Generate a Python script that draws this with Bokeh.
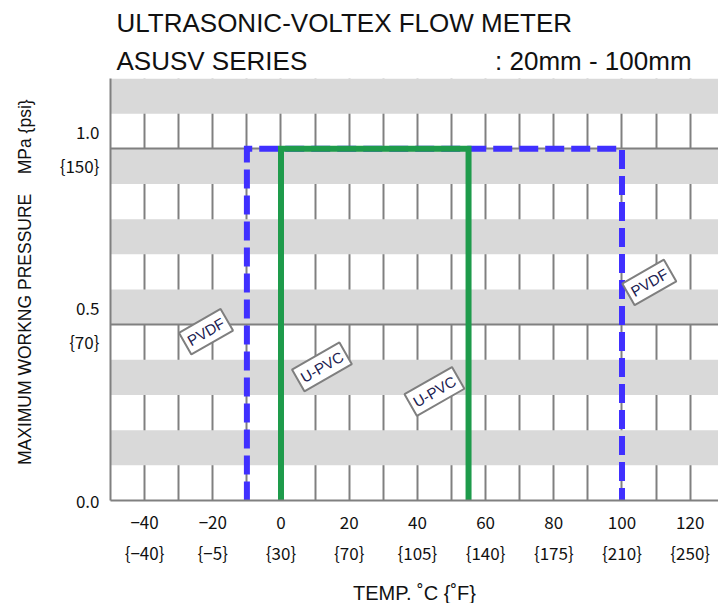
from bokeh.plotting import figure
from bokeh.models import FixedTicker, Grid, Range1d, ColumnDataSource, Title
from bokeh.embed import file_html
from bokeh.resources import INLINE
from bokeh.core.properties import value

# ---- data ----
pvdf_temp = [-10, -10, 100, 100]
pvdf_press = [0.0, 1.0, 1.0, 0.0]
upvc_temp = [0, 0, 55, 55]
upvc_press = [0.0, 1.0, 1.0, 0.0]

x_ticks = [-40, -20, 0, 20, 40, 60, 80, 100, 120]
x_tick_c = ["\u221240", "\u221220", "0", "20", "40", "60", "80", "100", "120"]
x_tick_f = ["{\u221240}", "{\u22125}", "{30}", "{70}", "{105}", "{140}", "{175}", "{210}", "{250}"]
x_grid_ticks = [-40, -30, -20, -10, 0, 10, 20, 30, 40, 50, 60, 70, 80, 90, 100, 110, 120]

y_ticks = [0.0, 0.5, 1.0]
y_tick_labels = ["0.0", "0.5\n{70}", "1.0\n{150}"]
y_band_ticks = [0.0, 0.1, 0.2, 0.3, 0.4, 0.5, 0.6, 0.7, 0.8, 0.9, 1.0, 1.1, 1.2]
y_line_ticks = [0.5, 1.0]

label_texts = ["PVDF", "PVDF", "U-PVC", "U-PVC"]
label_temp = [-22, 108, 12, 45]
label_press = [0.48, 0.62, 0.38, 0.31]

title1 = "ULTRASONIC-VOLTEX FLOW METER"
title2 = "ASUSV SERIES" + "\u00a0" * 26 + ":\u00a020mm - 100mm"
x_title = "TEMP. \u02daC {\u02daF}"
y_title = "\u00a0\u00a0\u00a0MAXIMUM WORKNG PRESSURE\u00a0\u00a0\u00a0\u00a0MPa {psi}"

GRID = "#808080"
SANS = "Liberation Sans"
TICKF = "Noto Sans CJK JP"

p = figure(frame_width=608, frame_height=422,
           x_range=Range1d(-50, 128.3), y_range=Range1d(0, 1.2),
           output_backend="svg", toolbar_location=None,
           min_border_left=110, min_border_right=0, min_border_top=78, min_border_bottom=103)
p.outline_line_color = None
p.background_fill_color = "white"

# titles (second line first: it sits next to the frame)
p.add_layout(Title(text=title2, align="left", offset=6, standoff=5,
                   text_font=SANS, text_font_size="26px", text_font_style="normal",
                   text_color="#111111"), "above")
p.add_layout(Title(text=title1, align="left", offset=6, standoff=8,
                   text_font=SANS, text_font_size="26px", text_font_style="normal",
                   text_color="#111111"), "above")

# grids
p.xgrid.ticker = FixedTicker(ticks=x_grid_ticks)
p.xgrid.grid_line_color = GRID
p.xgrid.grid_line_width = 2
p.ygrid.ticker = FixedTicker(ticks=y_band_ticks)
p.ygrid.grid_line_color = None
p.ygrid.band_fill_color = "#d9d9d9"
p.ygrid.band_fill_alpha = 1.0
hl = Grid(dimension=1, ticker=FixedTicker(ticks=y_line_ticks), grid_line_color=GRID, grid_line_width=2)
p.add_layout(hl)

# axes
for ax in (p.xaxis[0], p.yaxis[0]):
    ax.axis_line_color = GRID
    ax.axis_line_width = 2
    ax.major_tick_line_color = None
    ax.minor_tick_line_color = None
    ax.major_label_text_font = TICKF
    ax.major_label_text_font_size = "17px"
    ax.major_label_text_color = "#111111"
    ax.axis_label_text_font_style = "normal"
    ax.axis_label_text_color = "#111111"

p.xaxis.ticker = FixedTicker(ticks=x_ticks)
p.xaxis.major_label_overrides = {t: c + "\n" + f for t, c, f in zip(x_ticks, x_tick_c, x_tick_f)}
p.xaxis.major_label_text_line_height = 1.24
p.xaxis.major_label_standoff = 2
p.xaxis.axis_label = x_title
p.xaxis.axis_label_text_font = SANS
p.xaxis.axis_label_text_font_size = "20px"
p.xaxis.axis_label_standoff = 14

p.yaxis.ticker = FixedTicker(ticks=y_ticks)
p.yaxis.major_label_overrides = {t: s for t, s in zip(y_ticks, y_tick_labels)}
p.yaxis.major_label_text_line_height = 1.36
p.yaxis.major_label_standoff = 5
p.yaxis.axis_label = y_title
p.yaxis.axis_label_text_font = SANS
p.yaxis.axis_label_text_font_size = "17.5px"
p.yaxis.axis_label_standoff = 22

# lines
p.line(pvdf_temp, pvdf_press, line_color="#4030FF", line_width=6, line_dash="19 7", line_join="miter")
p.line(upvc_temp, upvc_press, line_color="#1E9B4B", line_width=6, line_join="miter")

# boxed labels
src = ColumnDataSource(dict(x=label_temp, y=label_press, t=label_texts))
p.text(x="x", y="y", text="t", source=src, angle=0.52, text_align="center", text_baseline="middle",
       text_font=value(SANS), text_font_size="15px", text_color="#202050",
       background_fill_color="white", border_line_color="#7f7f7f", border_line_width=2, padding=4)

open("out.html", "w").write(file_html(p, INLINE))
